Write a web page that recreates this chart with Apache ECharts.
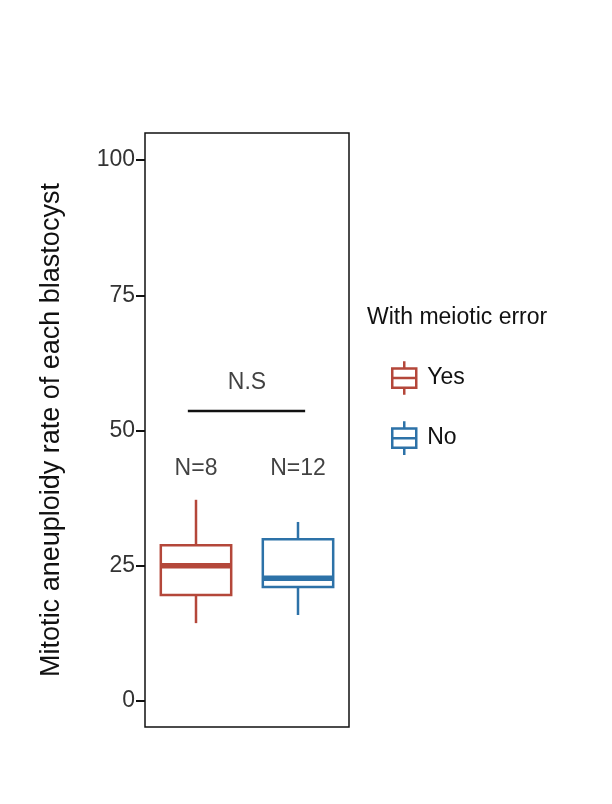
<!DOCTYPE html><html><head><meta charset="utf-8"><script src="https://cdn.jsdelivr.net/npm/echarts@6/dist/echarts.min.js"></script></head><body style="margin:0"><div id="c" style="width:612px;height:804px"></div><script>
const categories=['Yes','No'];
const yesBox=[14.4,19.6,25.0,28.8,37.2];
const noBox=[15.9,21.1,22.7,29.9,33.1];
const yTicks=[0,25,50,75,100];
const nLabels=[{x:0.5,y:42.9,text:'N=8'},{x:1.5,y:42.9,text:'N=12'}];
const nsLine=[[0.42,53.6],[1.57,53.6]];
const nsText={x:1.0,y:58.8,text:'N.S'};
const colors=['#B4473A','#2D72A8'];
const F='Arial, Liberation Sans, sans-serif';
const icon='path://M10,0V6M0,6H20V22H0ZM0,14H20M10,22V28';
const chart=echarts.init(document.getElementById('c'));
chart.setOption({
 animation:false,
 grid:{left:145,right:263,top:133,bottom:77,show:true,borderColor:'#111',borderWidth:1.5},
 legend:{orient:'vertical',left:386,top:355,itemWidth:24,itemHeight:34,itemGap:24,
  textStyle:{fontFamily:F,fontSize:23,color:'#111',padding:[0,0,0,6]},
  data:categories.map((c,i)=>({name:c,icon:icon,itemStyle:{color:'#fff',borderColor:colors[i],borderWidth:2.5}}))},
 graphic:[{type:'text',left:367,top:306,style:{text:'With meiotic error',font:'23px '+F,fill:'#111'}}],
 xAxis:[{type:'category',data:categories,show:false},{type:'value',min:0,max:2,show:false}],
 yAxis:{type:'value',min:-4.8,max:105,name:'Mitotic aneuploidy rate of each blastocyst',nameLocation:'middle',nameGap:80,
  nameTextStyle:{fontFamily:F,fontSize:27,color:'#111'},
  axisLine:{show:false},splitLine:{show:false},
  axisTick:{show:true,inside:false,length:9,customValues:yTicks,lineStyle:{color:'#111',width:2}},
  axisLabel:{customValues:yTicks,fontFamily:F,fontSize:23,color:'#333',margin:10}},
 series:[
  {type:'custom',xAxisIndex:0,renderItem:(p,api)=>{
    const i=api.value(0),b=[yesBox,noBox][i],c=colors[i];
    const w=api.size([1,0])[0]*0.69;
    const x=api.coord([i,0])[0];
    const y=v=>api.coord([i,v])[1];
    const st={stroke:c,lineWidth:2.5,fill:'#fff'};
    return {type:'group',children:[
     {type:'line',shape:{x1:x,y1:y(b[4]),x2:x,y2:y(b[3])},style:st},
     {type:'line',shape:{x1:x,y1:y(b[1]),x2:x,y2:y(b[0])},style:st},
     {type:'rect',shape:{x:x-w/2,y:y(b[3]),width:w,height:y(b[1])-y(b[3])},style:st},
     {type:'line',shape:{x1:x-w/2,y1:y(b[2]),x2:x+w/2,y2:y(b[2])},style:{stroke:c,lineWidth:5.5}}
    ]};
   },data:[[0],[1]]},
  {name:'Yes',type:'line',data:[]},{name:'No',type:'line',data:[]},
  {type:'line',xAxisIndex:1,data:nsLine,symbol:'none',lineStyle:{color:'#111',width:2.5}},
  {type:'scatter',xAxisIndex:1,symbolSize:0,data:nLabels.map(d=>[d.x,d.y,d.text]).concat([[nsText.x,nsText.y,nsText.text]]),
   label:{show:true,position:'inside',formatter:p=>p.value[2],fontFamily:F,fontSize:23,color:'#111'}}
 ]
});
</script></body></html>
